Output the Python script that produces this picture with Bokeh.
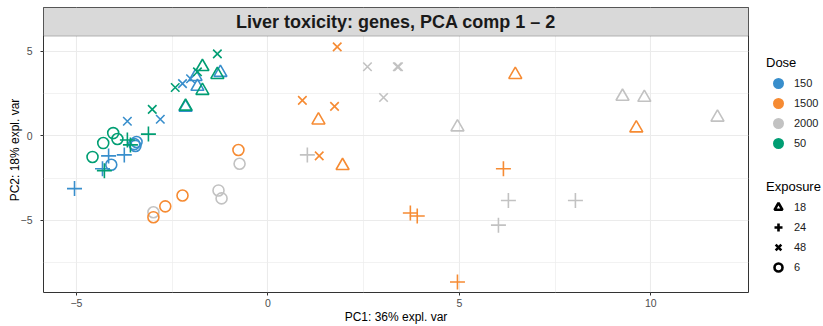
from bokeh.plotting import figure
from bokeh.models import (Range1d, FixedTicker, BoxAnnotation, Label, Legend, LegendItem)
from bokeh.layouts import row
from bokeh.embed import file_html
from bokeh.resources import INLINE

# ---------------- data ----------------
doses = ["150", "1500", "2000", "50"]
exposures = ["18", "24", "48", "6"]
# each dose: 4 samples per exposure, in the order 18, 24, 48, 6
exposure_of_sample = ["18"] * 4 + ["24"] * 4 + ["48"] * 4 + ["6"] * 4

pc1_150 = [-1.89, -1.84, -1.24, -2.15, -5.05, -4.16, -3.75, -4.32,
           -3.67, -2.81, -2.23, -2.02, -4.09, -3.49, -3.43, -3.46]
pc2_150 = [3.49, 2.91, 3.73, 1.68, -3.12, -1.19, -1.13, -1.95,
           0.86, 0.98, 3.08, 3.37, -1.71, -0.49, -0.37, -0.60]

pc1_1500 = [1.32, 1.95, 6.46, 9.62, 6.15, 3.72, 3.90, 4.95,
            1.81, 0.90, 1.74, 1.34, -0.77, -2.23, -2.68, -2.99]
pc2_1500 = [0.92, -1.77, 3.61, 0.45, -1.95, -4.56, -4.74, -8.64,
            5.25, 2.09, 1.74, -1.19, -0.84, -3.53, -4.17, -4.81]

pc1_2000 = [4.95, 9.26, 9.83, 11.74, 1.03, 6.28, 6.02, 8.03,
            2.60, 3.38, 3.41, 3.02, -0.74, -1.29, -1.21, -2.99]
pc2_2000 = [0.51, 2.32, 2.26, 1.09, -1.13, -3.82, -5.28, -3.82,
            4.08, 4.08, 4.08, 2.26, -1.65, -3.23, -3.70, -4.52]

pc1_50 = [-1.71, -1.32, -1.71, -2.15, -3.12, -3.67, -3.59, -4.27,
          -1.32, -1.84, -2.42, -3.02, -4.58, -4.30, -4.04, -3.93]
pc2_50 = [4.08, 3.61, 2.67, 1.74, 0.10, -0.25, -0.54, -2.06,
          4.84, 3.78, 2.85, 1.56, -1.25, -0.43, 0.16, -0.19]

x_ticks = [-5, 0, 5, 10]
y_ticks = [-5, 0, 5]

title_text = "Liver toxicity: genes, PCA comp 1 \u2013 2"
x_label = "PC1: 36% expl. var"
y_label = "PC2: 18% expl. var"

# ---------------- styles ----------------
FONT = "Liberation Sans"
dose_colors = {"150": "#388ECC", "1500": "#F68B33", "2000": "#C2C2C2", "50": "#009E73"}
exp_marker = {"18": "triangle", "24": "cross", "48": "x", "6": "circle"}
exp_size = {"18": 13, "24": 15, "48": 12, "6": 11}

series = {
    "150": (pc1_150, pc2_150),
    "1500": (pc1_1500, pc2_1500),
    "2000": (pc1_2000, pc2_2000),
    "50": (pc1_50, pc2_50),
}

x_lo, x_hi = -5.86, 12.55
y_lo, y_hi = -9.26, 7.58
strip_bottom = 5.89

p = figure(width=750, height=326, output_backend="svg", toolbar_location=None,
           x_range=Range1d(x_lo, x_hi), y_range=Range1d(y_lo, y_hi),
           min_border_left=43, min_border_right=2, min_border_top=7,
           min_border_bottom=31, background_fill_color="white",
           border_fill_color="white")
p.outline_line_color = "#333333"
p.outline_line_width = 1

p.xaxis.ticker = FixedTicker(ticks=x_ticks, minor_ticks=[-2.5, 2.5, 7.5])
p.yaxis.ticker = FixedTicker(ticks=y_ticks, minor_ticks=[-7.5, -2.5, 2.5])
p.xaxis.major_label_overrides = {t: (str(t).replace("-", "\u2212")) for t in x_ticks}
p.yaxis.major_label_overrides = {t: (str(t).replace("-", "\u2212")) for t in y_ticks}

for ax in (p.xaxis[0], p.yaxis[0]):
    ax.axis_line_color = None
    ax.major_tick_line_color = "#333333"
    ax.major_tick_out = 3
    ax.major_tick_in = 0
    ax.minor_tick_line_color = None
    ax.major_label_text_font = FONT
    ax.major_label_text_font_size = "10.5px"
    ax.major_label_text_color = "#4D4D4D"
    ax.axis_label_text_font = FONT
    ax.axis_label_text_font_size = "12px"
    ax.axis_label_text_font_style = "normal"
    ax.axis_label_text_color = "#000000"
p.xaxis.axis_label = x_label
p.yaxis.axis_label = y_label
p.xaxis.major_label_standoff = 2
p.xaxis.axis_label_standoff = 0
p.yaxis.major_label_standoff = 7
p.yaxis.axis_label_standoff = -4

for g in (p.xgrid[0], p.ygrid[0]):
    g.grid_line_color = "#EBEBEB"
    g.grid_line_width = 1.1
    g.minor_grid_line_color = "#EDEDED"
    g.minor_grid_line_width = 0.7

# points
for dose in ["2000", "150", "1500", "50"]:
    xs, ys = series[dose]
    for e in exposures:
        idx = [i for i, v in enumerate(exposure_of_sample) if v == e]
        p.scatter(x=[xs[i] for i in idx], y=[ys[i] for i in idx],
                  marker=exp_marker[e], size=exp_size[e],
                  fill_color=None, line_color=dose_colors[dose], line_width=1.6)

# facet strip
strip = BoxAnnotation(bottom=strip_bottom, fill_color="#D9D9D9", fill_alpha=1.0,
                      line_color="#333333", line_width=1)
p.add_layout(strip)
p.add_layout(Label(x=(x_lo + x_hi) / 2, y=(strip_bottom + y_hi) / 2, text=title_text,
                   text_align="center", text_baseline="middle",
                   text_font=FONT, text_font_size="18px", text_font_style="bold",
                   text_color="#1A1A1A"))

# ---------------- legends ----------------
lg = figure(width=73, height=326, output_backend="svg", toolbar_location=None,
            x_range=Range1d(0, 1), y_range=Range1d(0, 1),
            min_border=0, outline_line_color=None)
lg.axis.visible = False
lg.grid.visible = False

# legend-key renderers: their single point lies outside the visible range
dose_items = []
for d in doses:
    r = lg.scatter(x=[-100], y=[-100], marker="circle", fill_color=dose_colors[d],
                   line_color=dose_colors[d], line_width=3)
    dose_items.append(LegendItem(label=d, renderers=[r]))
exp_items = []
for e in exposures:
    r = lg.scatter(x=[-100], y=[-100], marker=exp_marker[e], fill_color=None,
                   line_color="black", line_width=2.6)
    exp_items.append(LegendItem(label=e, renderers=[r]))

common = dict(orientation="vertical", background_fill_alpha=0, border_line_color=None,
              padding=0, margin=0, glyph_width=24, glyph_height=20, spacing=0,
              label_height=20, label_standoff=4, label_text_font=FONT,
              label_text_font_size="11px", label_text_color="#1A1A1A",
              title_text_font=FONT, title_text_font_size="13px",
              title_text_font_style="normal", title_text_color="#000000",
              title_standoff=3)
leg1 = Legend(items=dose_items, title="Dose", location=(16, 139), **common)
leg2 = Legend(items=exp_items, title="Exposure", location=(16, 15), **common)
lg.add_layout(leg1, "center")
lg.add_layout(leg2, "center")

layout = row(p, lg)
open("out.html", "w").write(file_html(layout, INLINE))
